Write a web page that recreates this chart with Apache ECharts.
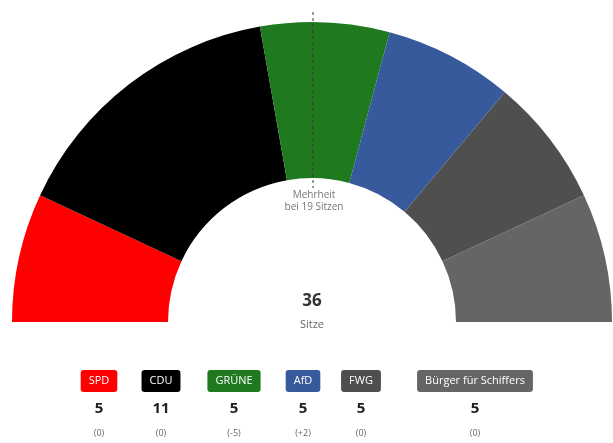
<!DOCTYPE html>
<html>
<head>
<meta charset="utf-8">
<script src="https://cdn.jsdelivr.net/npm/echarts@6/dist/echarts.min.js"></script>
<style>
  html, body { margin: 0; padding: 0; background: #fff; }
  #chart { width: 613px; height: 443px; }
</style>
</head>
<body>
<div id="chart"></div>
<script>
const parties = ["SPD", "CDU", "GRÜNE", "AfD", "FWG", "Bürger für Schiffers"];
const seats = [5, 11, 5, 5, 5, 5];
const changes = ["(0)", "(0)", "(-5)", "(+2)", "(0)", "(0)"];
const colors = ["#ff0000", "#000000", "#1f7a1f", "#375a9c", "#4f4f4f", "#656565"];
const totalSeats = 36;
const majority = 19;

const FONT = "'Open Sans', 'Noto Sans', sans-serif";
const cx = 312, cy = 322, rIn = 144, rOut = 300;
// legend badge centres
const legendX = [99, 161, 234, 303, 361, 475];

const chart = echarts.init(document.getElementById("chart"));

const graphics = [
  {
    type: "line",
    shape: { x1: cx + 1, y1: cy - rOut - 10, x2: cx + 1, y2: cy - rIn + 10 },
    style: { stroke: "#333", lineWidth: 1, lineDash: [3, 3] },
    z: 10,
  },
  {
    type: "text", x: cx + 2, y: cy - rIn + 23,
    style: { text: "Mehrheit\nbei " + majority + " Sitzen", align: "center", verticalAlign: "middle",
      fill: "#777", font: "10px " + FONT, lineHeight: 12 },
  },
  {
    type: "text", x: cx, y: 301,
    style: { text: String(totalSeats), align: "center", verticalAlign: "middle",
      fill: "#333", font: "bold 17px " + FONT },
  },
  {
    type: "text", x: cx, y: 325,
    style: { text: "Sitze", align: "center", verticalAlign: "middle",
      fill: "#666", font: "11px " + FONT },
  },
];

parties.forEach((p, i) => {
  graphics.push({
    type: "text", x: legendX[i], y: 381,
    style: { text: p, align: "center", verticalAlign: "middle", fill: "#fff",
      font: "11px " + FONT, backgroundColor: colors[i], padding: [6, 8, 5, 8], borderRadius: 3 },
  });
  graphics.push({
    type: "text", x: legendX[i], y: 409,
    style: { text: String(seats[i]), align: "center", verticalAlign: "middle",
      fill: "#222", font: "bold 15px " + FONT },
  });
  graphics.push({
    type: "text", x: legendX[i], y: 433,
    style: { text: changes[i], align: "center", verticalAlign: "middle",
      fill: "#666", font: "9px " + FONT },
  });
});

const option = {
  animation: false,
  series: [
    {
      type: "pie",
      center: [cx, cy],
      radius: [rIn, rOut],
      startAngle: 180,
      endAngle: 360,
      silent: true,
      label: { show: false },
      labelLine: { show: false },
      itemStyle: { borderWidth: 0 },
      data: parties.map((p, i) => ({ name: p, value: seats[i], itemStyle: { color: colors[i] } })),
    },
  ],
  graphic: graphics,
};

chart.setOption(option);
</script>
</body>
</html>
